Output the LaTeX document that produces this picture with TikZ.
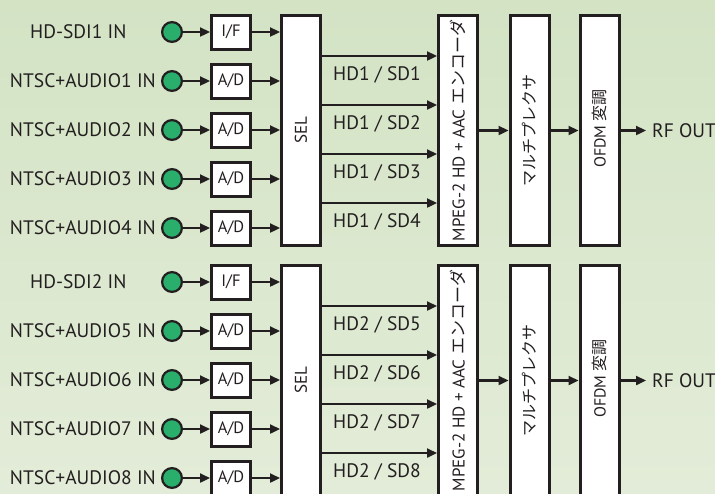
\documentclass[tikz,border=0pt]{standalone}
\usepackage{fontspec}
\setmainfont{PT Sans}
\newfontfamily\jp{Noto Sans CJK JP}
\usetikzlibrary{arrows.meta,calc}
\definecolor{ink}{HTML}{231F20}
\definecolor{dot}{HTML}{2AAE6C}
\definecolor{bgtop}{HTML}{D3E3C4}
\definecolor{bgbot}{HTML}{E3ECD8}
\begin{document}
\begin{tikzpicture}[x=1pt,y=-1pt,
  every node/.style={text=ink},
  jack/.style={circle,draw=ink,fill=dot,line width=2.2pt,minimum size=19.8pt,inner sep=0pt},
  smallbox/.style={draw=ink,fill=white,line width=3pt,minimum width=39pt,minimum height=34pt,inner sep=0pt,font=\fontsize{16.5}{16.5}\selectfont},
  tallbox/.style={draw=ink,fill=white,line width=3pt,minimum width=39pt,minimum height=230pt,inner sep=0pt},
  vtext/.style={rotate=90,inner sep=0pt,font=\fontsize{17}{17}\selectfont},
  sig/.style={draw=ink,line width=2.3pt,-{Triangle[length=10pt,width=9pt]}},
  lbl/.style={inner sep=0pt,font=\fontsize{19.5}{19.5}\selectfont},
]
\useasboundingbox (0,0) rectangle (715,493);
\clip (0,0) rectangle (715,493);
\shade[top color=bgtop,bottom color=bgbot] (0,0) rectangle (715,493);
\foreach \g in {1,2} {
  \pgfmathsetmacro\o{(\g-1)*250}
  % tall boxes
  \node[tallbox] (s\g) at (301,130.5+\o) {};
  \node[vtext] at (s\g.center) {SEL};
  \node[tallbox] (m\g) at (458,130.5+\o) {};
  \node[vtext] at (m\g.center) {MPEG-2 HD + AAC {\jp エンコーダ}};
  \node[tallbox] (x\g) at (529.5,130.5+\o) {};
  \node[vtext,font=\fontsize{16}{16}\selectfont] at (x\g.center) {\jp マルチプレクサ};
  \node[tallbox] (f\g) at (599.5,130.5+\o) {};
  \node[vtext,font=\fontsize{16}{16}\selectfont] at ($(f\g.center)+(0,-2)$) {OFDM {\jp 変調}};
  \node[lbl,anchor=west,inner xsep=6pt] (r\g) at (646,130.5+\o) {RF OUT};
  \draw[sig] (m\g) -- (x\g);
  \draw[sig] (x\g) -- (f\g);
  \draw[sig] (f\g.east) -- (r\g.west);
  % HD-SDI row
  \pgfmathsetmacro\yy{32+\o}
  \node[lbl,anchor=west] (l\g0) at (30,\yy) {HD-SDI\g{} IN};
  \node[jack] (j\g0) at (172,\yy) {};
  \node[smallbox] (b\g0) at (231,\yy) {I/F};
  \draw[sig] (j\g0) -- (b\g0);
  \draw[sig] (b\g0.east) -- (b\g0.east -| s\g.west);
  % NTSC rows
  \foreach \r in {1,...,4} {
    \pgfmathsetmacro\yy{32+49*\r+\o}
    \pgfmathtruncatemacro\n{4*(\g-1)+\r}
    \node[lbl,anchor=east] (l\g\r) at (156,\yy) {NTSC+AUDIO\n{} IN};
    \node[jack] (j\g\r) at (172,\yy) {};
    \node[smallbox] (b\g\r) at (231,\yy) {A/D};
    \draw[sig] (j\g\r) -- (b\g\r);
    \draw[sig] (b\g\r.east) -- (b\g\r.east -| s\g.west);
  }
  % SEL outputs
  \foreach \k in {0,...,3} {
    \pgfmathsetmacro\yo{56+49*\k+\o}
    \pgfmathtruncatemacro\n{4*(\g-1)+\k+1}
    \coordinate (o\g\k) at (380,\yo);
    \draw[sig] (s\g.east |- o\g\k) -- (m\g.west |- o\g\k);
    \node[lbl] (h\g\k) at (377,\yo+19) {HD\g{} / SD\n};
  }
}
\end{tikzpicture}
\end{document}
